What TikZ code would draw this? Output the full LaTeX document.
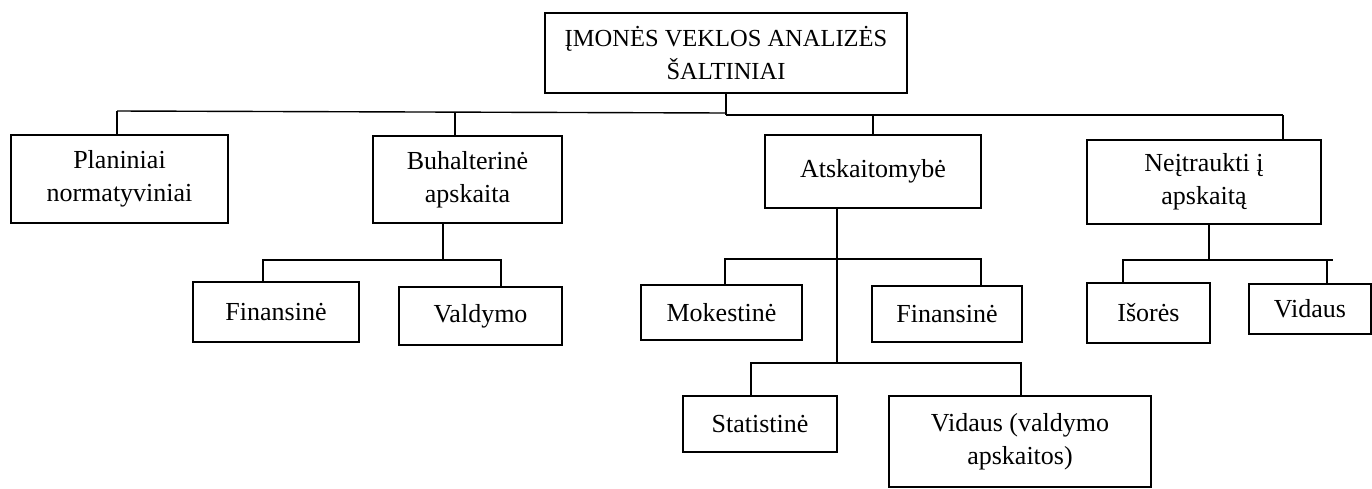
\documentclass[tikz,border=0pt]{standalone}
\usepackage{fontspec}
\setmainfont{Liberation Serif}
\begin{document}
\begin{tikzpicture}[x=1pt,y=-1pt,
  box/.style={draw, line width=2.1pt, align=center, inner sep=0pt, font=\fontsize{26}{33}\selectfont},
  conn/.style={line width=1.4pt}]
\useasboundingbox (0,0) rectangle (1372,488);
% boxes
\node[box, minimum width=362, minimum height=80, font=\fontsize{24.5}{33}\selectfont] (top) at (726,53) {ĮMONĖS VEKLOS ANALIZĖS\\ŠALTINIAI};
\node[box, minimum width=217, minimum height=88] (plan) at (119.5,179) {Planiniai\\normatyviniai};
\node[box, minimum width=189, minimum height=87] (buh) at (467.5,179.5) {Buhalterinė\\apskaita};
\node[box, minimum width=216, minimum height=73] (ats) at (873,171.5) {Atskaitomybė};
\node[box, minimum width=234, minimum height=84] (neit) at (1204,182) {Neįtraukti į\\apskaitą};
\node[box, minimum width=166, minimum height=60] (fin1) at (276,312) {Finansinė};
\node[box, minimum width=163, minimum height=58] (vald) at (480.5,316) {Valdymo};
\node[box, minimum width=161, minimum height=55] (mok) at (721.5,312.5) {Mokestinė};
\node[box, minimum width=150, minimum height=56] (fin2) at (947,314) {Finansinė};
\node[box, minimum width=123, minimum height=60] (isor) at (1148.5,313) {Išorės};
\node[box, minimum width=122, minimum height=50] (vid) at (1310,309) {Vidaus};
\node[box, minimum width=154, minimum height=56] (stat) at (760,424) {Statistinė};
\node[box, minimum width=262, minimum height=91] (vid2) at (1020,441.5) {Vidaus (valdymo\\apskaitos)};
% level 1 connectors
\coordinate (busL) at (117,111);
\coordinate (busM1) at (726,113);
\coordinate (busM2) at (726,115);
\coordinate (busR) at (1283,115);
\coordinate (sBuh) at (455,112);
\coordinate (sAts) at (873,115);
\draw[conn] (top.south) -- (busM2);
\draw[conn] (busL) -- (busM1);
\draw[conn] (busM2) -- (busR);
\draw[conn] (busL) -- (busL |- plan.north);
\draw[conn] (sBuh) -- (sBuh |- buh.north);
\draw[conn] (sAts) -- (sAts |- ats.north);
\draw[conn] (busR) -- (busR |- neit.north);
% Buhalterine children
\coordinate (bb) at (443,260);
\coordinate (bbL) at (263,260);
\coordinate (bbR) at (501,260);
\draw[conn] (bb |- buh.south) -- (bb);
\draw[conn] (bbL |- fin1.north) -- (bbL) -- (bbR) -- (bbR |- vald.north);
% Atskaitomybe children
\coordinate (aS) at (837,363);
\coordinate (m1) at (725,259);
\coordinate (m2) at (981,259);
\coordinate (s1) at (751,363);
\coordinate (s2) at (1021,363);
\draw[conn] (aS |- ats.south) -- (aS);
\draw[conn] (m1 |- mok.north) -- (m1) -- (m2) -- (m2 |- fin2.north);
\draw[conn] (s1 |- stat.north) -- (s1) -- (s2) -- (s2 |- vid2.north);
% Neitraukti children
\coordinate (n0) at (1209,260);
\coordinate (n1) at (1123,260);
\coordinate (n2) at (1333,260);
\coordinate (n3) at (1327,260);
\draw[conn] (n0 |- neit.south) -- (n0);
\draw[conn] (n1 |- isor.north) -- (n1) -- (n2);
\draw[conn] (n3) -- (n3 |- vid.north);
\end{tikzpicture}
\end{document}
